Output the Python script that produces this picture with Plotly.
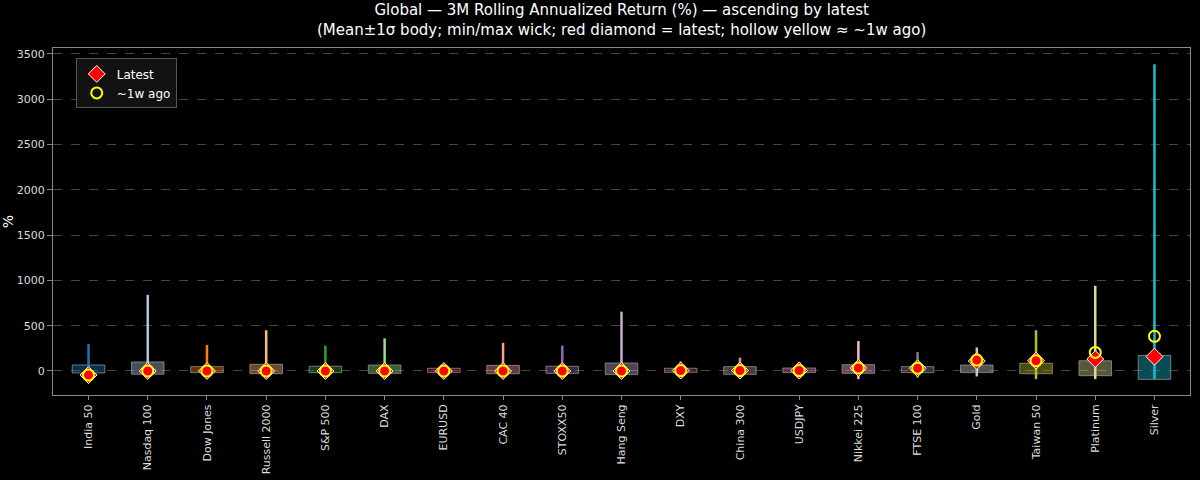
import plotly.graph_objects as go

cats = ["India 50", "Nasdaq 100", "Dow Jones", "Russell 2000", "S&P 500", "DAX", "EURUSD",
        "CAC 40", "STOXX50", "Hang Seng", "DXY", "China 300", "USDJPY", "Nikkei 225",
        "FTSE 100", "Gold", "Taiwan 50", "Platinum", "Silver"]
body_lo = [-22, -35, -18, -30, -18, -26, -15, -30, -26, -40, -15, -37, -18, -26, -18, -18, -30, -52, -92]
body_hi = [66, 100, 48, 74, 52, 66, 30, 62, 52, 88, 30, 48, 33, 70, 48, 66, 85, 113, 172]
wick_lo = [-60, -50, -40, -50, -40, -45, -20, -45, -40, -60, -20, -40, -25, -90, -75, -60, -90, -90, -92]
wick_hi = [300, 840, 287, 450, 280, 360, 40, 310, 280, 655, 110, 147, 100, 330, 210, 260, 450, 940, 3385]
latest = [-45, 0, 0, 0, 0, 0, 0, 0, 0, 0, 5, 5, 5, 33, 30, 110, 113, 132, 158]
week_ago = [-45, 0, 0, 0, 0, 0, 0, 0, 0, 0, 5, 5, 5, 33, 30, 120, 113, 205, 383]
colors = ["#1f77b4", "#aec7e8", "#ff7f0e", "#ffbb78", "#2ca02c", "#98df8a", "#d62728", "#ff9896",
          "#9467bd", "#c5b0d5", "#8c564b", "#c49c94", "#e377c2", "#f7b6d2", "#7f7f7f", "#c7c7c7",
          "#bcbd22", "#dbdb8d", "#17becf"]


def rgba(h, a):
    h = h.lstrip("#")
    return "rgba(%d,%d,%d,%s)" % (int(h[0:2], 16), int(h[2:4], 16), int(h[4:6], 16), a)


fig = go.Figure()

# bodies
fig.add_trace(go.Bar(
    x=cats, y=[h - l for h, l in zip(body_hi, body_lo)], base=body_lo, width=0.55,
    marker=dict(color=[rgba(c, 0.4) for c in colors], line=dict(color="rgba(160,160,160,0.7)", width=1)),
    showlegend=False, hoverinfo="skip"))

# wicks
for c, lo, hi, col in zip(cats, wick_lo, wick_hi, colors):
    fig.add_trace(go.Scatter(x=[c, c], y=[lo, hi], mode="lines",
                             line=dict(color=col, width=2.5), showlegend=False, hoverinfo="skip"))

fig.add_trace(go.Scatter(x=cats, y=latest, mode="markers", name="Latest",
                         marker=dict(symbol="diamond", size=13, color="red", line=dict(color="white", width=1))))
fig.add_trace(go.Scatter(x=cats, y=week_ago, mode="markers", name="~1w ago",
                         marker=dict(symbol="circle-open", size=11, color="yellow", line=dict(width=2))))

fig.add_annotation(
    text="Global — 3M Rolling Annualized Return (%) — ascending by latest<br>"
         "(Mean±1σ body; min/max wick; red diamond = latest; hollow yellow ≈ ~1w ago)",
    xref="paper", yref="paper", x=0.5, y=1.02, xanchor="center", yanchor="bottom",
    showarrow=False, font=dict(size=15), align="center")

fig.update_layout(
    width=1200, height=480,
    paper_bgcolor="black", plot_bgcolor="black",
    font=dict(family="DejaVu Sans", color="white", size=12),
    margin=dict(l=53, r=10, t=48, b=85),
    bargap=0.45,
    legend=dict(x=0.02, y=0.97, xanchor="left", yanchor="top", bgcolor="rgba(20,20,20,0.9)",
                bordercolor="#555", borderwidth=1, font=dict(size=12)),
    xaxis=dict(tickangle=-90, showgrid=False, showline=True, linecolor="#888", mirror=True,
               ticks="outside", tickcolor="#888", ticklen=4, range=[-0.6, 18.6], automargin=False,
               tickfont=dict(size=11, color="#ddd")),
    yaxis=dict(title=dict(text="%", standoff=8), range=[-265, 3565], dtick=500, gridcolor="#444",
               griddash="dash", zeroline=False, showline=True, linecolor="#888", mirror=True,
               ticks="outside", tickcolor="#888", automargin=False, tickfont=dict(size=11, color="#ddd")),
)

fig.write_html("out.html", config={"displayModeBar": False},
               post_script="document.body.style.margin='0';document.body.style.background='black';")
